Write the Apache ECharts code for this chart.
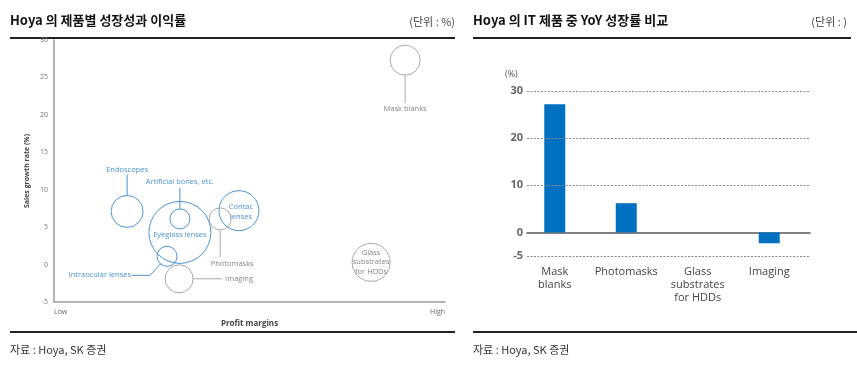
<!DOCTYPE html>
<html>
<head>
<meta charset="utf-8">
<script src="https://cdn.jsdelivr.net/npm/echarts@6/dist/echarts.min.js"></script>
<style>
  html, body { margin: 0; padding: 0; background: #fff; }
  #chart { width: 857px; height: 371px; }
</style>
</head>
<body>
<div id="chart"></div>
<script>
// Left panel: growth vs. profit margin by product line
const products = ['Mask blanks', 'Endoscopes', 'Artificial bones, etc.', 'Eyeglass lenses',
  'Contac lenses', 'Photomasks', 'Intraocular lenses', 'Imaging', 'Glass substrates for HDDs'];
const profitMargin = [89.8, 18.7, 32.2, 32.2, 47.3, 42.5, 28.9, 32.0, 81.1];
const salesGrowth = [27.3, 7.1, 6.1, 4.3, 7.2, 6.1, 1.1, -1.9, 0.3];
const bubbleSize = [30, 32, 20, 62, 40, 22, 20, 28, 38];
const segment = ['IT', 'Life', 'Life', 'Life', 'Life', 'IT', 'Life', 'IT', 'IT'];
const growthTicks = [-5, 0, 5, 10, 15, 20, 25, 30];
const marginLabels = ['Low', 'High'];

// Right panel: YoY growth of IT products
const itProducts = ['Mask\nblanks', 'Photomasks', 'Glass\nsubstrates\nfor HDDs', 'Imaging'];
const itGrowth = [27.2, 6.2, 0, -2.3];
const itTicks = [-5, 0, 10, 20, 30];

const BLUE = '#4a92d4';
const GRAY = '#a8a8a8';
const GRAY_TXT = '#858585';
const FONT = '"Open Sans", "Noto Sans", sans-serif';
const KFONT = '"Noto Sans CJK KR", sans-serif';

// label placement and leader lines, relative to each bubble centre (px)
const annot = {
  'Mask blanks': { text: 'Mask blanks', dx: 0, dy: 49, leader: [[0, 15], [0, 43]] },
  'Endoscopes': { text: 'Endoscopes', dx: 0, dy: -42, leader: [[0, -16], [0, -37]] },
  'Artificial bones, etc.': { text: 'Artificial bones, etc.', dx: 0, dy: -37, leader: [[0, -10], [0, -31]] },
  'Eyeglass lenses': { text: 'Eyeglass lenses', dx: 0, dy: 2 },
  'Contac lenses': { text: 'Contac\nlenses', dx: 2, dy: 1 },
  'Photomasks': { text: 'Photomasks', dx: 12, dy: 45, leader: [[0, 11], [0, 38]] },
  'Intraocular lenses': { text: 'Intraocular lenses', dx: -36, dy: 19, align: 'right',
    leader: [[-6, 7], [-17, 19], [-35, 19]] },
  'Imaging': { text: 'Imaging', dx: 46, dy: 0, align: 'left', leader: [[14, 0], [43, 0]] },
  'Glass substrates for HDDs': { text: 'Glass\nsubstrates\nfor HDDs', dx: 0, dy: 0 }
};

const chart = echarts.init(document.getElementById('chart'));

function renderBubble(params, api) {
  const i = params.dataIndex;
  const c = api.coord([api.value(0), api.value(1)]);
  const r = api.value(2) / 2;
  const life = segment[i] === 'Life';
  const stroke = life ? BLUE : GRAY;
  const txt = life ? BLUE : GRAY_TXT;
  const a = annot[products[i]];
  const children = [{
    type: 'circle',
    shape: { cx: c[0], cy: c[1], r: r },
    style: { fill: 'none', stroke: stroke, lineWidth: 1 }
  }];
  if (a.leader) {
    children.push({
      type: 'polyline',
      shape: { points: a.leader.map(p => [c[0] + p[0], c[1] + p[1]]) },
      style: { fill: null, stroke: stroke, lineWidth: 1 }
    });
  }
  children.push({
    type: 'text',
    x: c[0] + a.dx, y: c[1] + a.dy,
    style: {
      text: a.text, fill: txt, font: '7.5px ' + FONT,
      align: a.align || 'center', verticalAlign: 'middle', lineHeight: 9.5
    }
  });
  return { type: 'group', children: children };
}

const option = {
  animation: false,
  grid: [
    { left: 54, top: 40, width: 391, height: 262 },
    { left: 527, right: 47, top: 91, bottom: 115 },
    { left: 519, right: 52, top: 91, bottom: 115 }
  ],
  xAxis: [
    {
      gridIndex: 0, type: 'value', min: 0, max: 100, interval: 100,
      name: 'Profit margins', nameLocation: 'middle', nameGap: 11,
      nameTextStyle: { fontFamily: FONT, fontSize: 8, fontWeight: 'bold', color: '#444' },
      axisLine: { show: true, onZero: false, lineStyle: { color: '#9a9a9a', width: 1.5 } },
      axisTick: { show: false }, splitLine: { show: false },
      axisLabel: {
        fontFamily: FONT, fontSize: 7, color: '#666', margin: 6,
        alignMinLabel: 'left', alignMaxLabel: 'right',
        formatter: v => (v === 0 ? marginLabels[0] : v === 100 ? marginLabels[1] : '')
      }
    },
    {
      gridIndex: 1, type: 'category', data: itProducts,
      axisLine: { show: true, onZero: true, lineStyle: { color: '#555', width: 1.5 } },
      axisTick: { show: false }, axisLabel: { show: false }, splitLine: { show: false }
    },
    {
      gridIndex: 2, type: 'category', data: itProducts, position: 'bottom',
      axisLine: { show: false, onZero: false }, axisTick: { show: false },
      axisLabel: { fontFamily: FONT, fontSize: 11, color: '#444', margin: 9, lineHeight: 13, interval: 0 }
    }
  ],
  yAxis: [
    {
      gridIndex: 0, type: 'value', min: growthTicks[0], max: growthTicks[growthTicks.length - 1], interval: 5,
      name: 'Sales growth rate (%)', nameLocation: 'middle', nameGap: 24, nameRotate: 90,
      nameTextStyle: { fontFamily: FONT, fontSize: 7, fontWeight: 'bold', color: '#444' },
      axisLine: { show: true, onZero: false, lineStyle: { color: '#9a9a9a', width: 1.5 } },
      axisTick: { show: false }, splitLine: { show: false },
      axisLabel: { fontFamily: FONT, fontSize: 7, color: '#777', margin: 6 }
    },
    {
      gridIndex: 1, type: 'value', min: -5, max: 30, interval: 5,
      axisLine: { show: false }, axisTick: { show: false }, splitLine: { show: false },
      axisLabel: {
        fontFamily: FONT, fontSize: 11, fontWeight: 'bold', color: '#666', margin: 4,
        formatter: v => (itTicks.includes(v) ? String(v) : '')
      }
    },
    { gridIndex: 2, type: 'value', min: -5, max: 30, show: false }
  ],
  graphic: [
    // headers
    { type: 'text', left: 10, top: 14, style: { text: 'Hoya 의 제품별 성장성과 이익률', font: 'bold 13px ' + KFONT, fill: '#111' } },
    { type: 'text', right: 402, top: 16, style: { text: '(단위 : %)', font: '11px ' + KFONT, fill: '#444' } },
    { type: 'rect', shape: { x: 10, y: 37, width: 445, height: 2 }, style: { fill: '#222' } },
    { type: 'text', left: 473, top: 14, style: { text: 'Hoya 의 IT 제품 중 YoY 성장률 비교', font: 'bold 13px ' + KFONT, fill: '#111' } },
    { type: 'text', right: 10, top: 16, style: { text: '(단위 : )', font: '11px ' + KFONT, fill: '#444' } },
    { type: 'rect', shape: { x: 473, y: 37, width: 378, height: 2 }, style: { fill: '#222' } },
    // footers
    { type: 'rect', shape: { x: 10, y: 331, width: 445, height: 2 }, style: { fill: '#222' } },
    { type: 'rect', shape: { x: 473, y: 331, width: 384, height: 2 }, style: { fill: '#222' } },
    { type: 'text', left: 10, top: 344, style: { text: '자료 : Hoya, SK 증권', font: '11px ' + KFONT, fill: '#333' } },
    { type: 'text', left: 473, top: 344, style: { text: '자료 : Hoya, SK 증권', font: '11px ' + KFONT, fill: '#333' } },
    // unit above the value axis
    { type: 'text', left: 505, top: 70, style: { text: '(%)', font: '9px ' + FONT, fill: '#555' } }
  ],
  series: [
    {
      type: 'custom', xAxisIndex: 0, yAxisIndex: 0, clip: false,
      data: profitMargin.map((x, i) => [x, salesGrowth[i], bubbleSize[i]]),
      renderItem: renderBubble
    },
    {
      type: 'line', xAxisIndex: 1, yAxisIndex: 1, data: itGrowth,
      symbol: 'none', lineStyle: { opacity: 0 }, silent: true,
      markLine: {
        symbol: 'none', silent: true, label: { show: false },
        lineStyle: { type: [2, 1.5], color: '#8a8a8a', width: 1 },
        data: itTicks.filter(v => v !== 0).map(v => ({ yAxis: v }))
      }
    },
    {
      type: 'bar', xAxisIndex: 2, yAxisIndex: 2, data: itGrowth,
      barWidth: 21, itemStyle: { color: '#0070c0' }
    }
  ]
};

chart.setOption(option);
</script>
</body>
</html>
